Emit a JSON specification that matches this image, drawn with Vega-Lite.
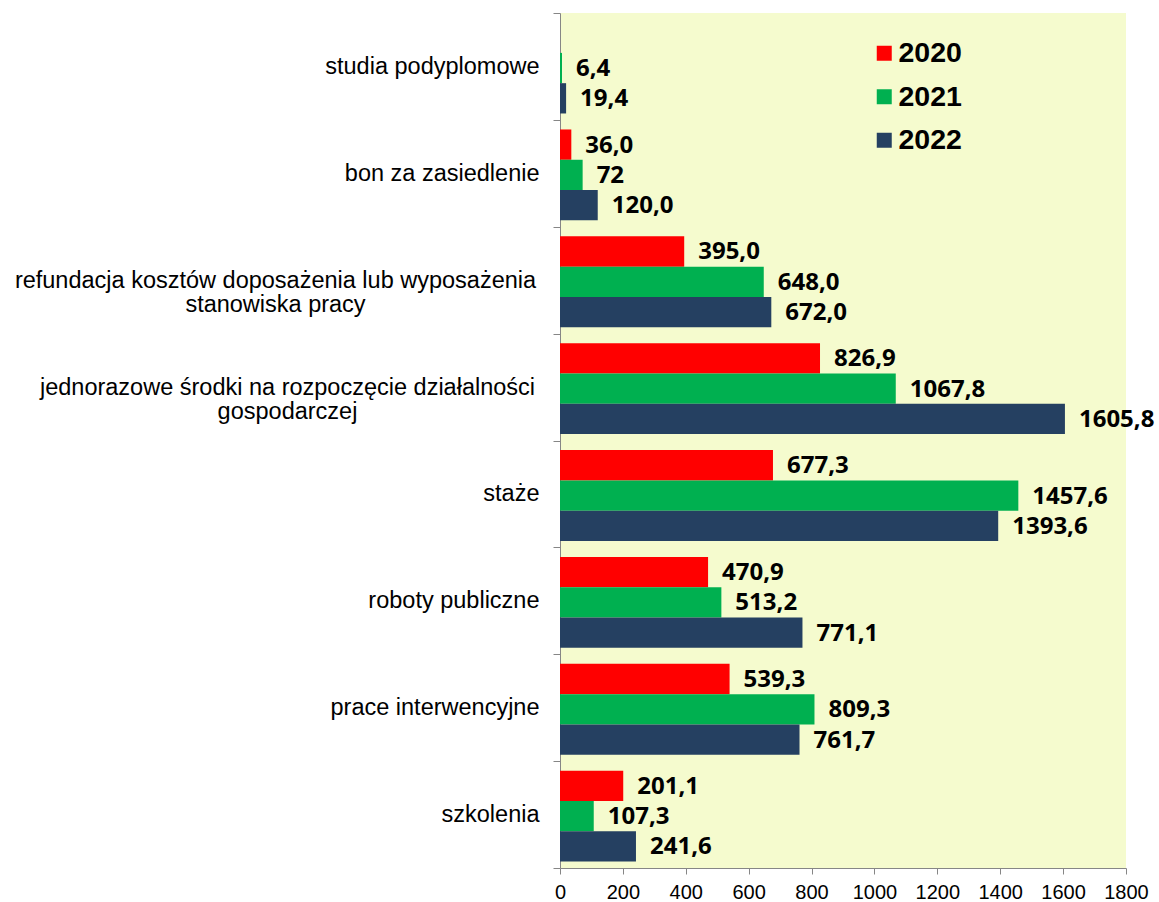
{
  "$schema": "https://vega.github.io/schema/vega-lite/v6.json",
  "width": 566,
  "height": 855,
  "autosize": {"type": "none"},
  "padding": {"left": 560, "top": 13, "right": 33, "bottom": 34},
  "background": "white",
  "config": {"view": {"fill": "#F5FBCE", "stroke": null}},
  "data": {
    "values": [
      {"cat": "studia podyplomowe", "year": "2021", "v": 6.4, "lab": "6,4"},
      {"cat": "studia podyplomowe", "year": "2022", "v": 19.4, "lab": "19,4"},
      {"cat": "bon za zasiedlenie", "year": "2020", "v": 36.0, "lab": "36,0"},
      {"cat": "bon za zasiedlenie", "year": "2021", "v": 72, "lab": "72"},
      {"cat": "bon za zasiedlenie", "year": "2022", "v": 120.0, "lab": "120,0"},
      {"cat": "refundacja kosztów doposażenia lub wyposażenia stanowiska pracy", "year": "2020", "v": 395.0, "lab": "395,0"},
      {"cat": "refundacja kosztów doposażenia lub wyposażenia stanowiska pracy", "year": "2021", "v": 648.0, "lab": "648,0"},
      {"cat": "refundacja kosztów doposażenia lub wyposażenia stanowiska pracy", "year": "2022", "v": 672.0, "lab": "672,0"},
      {"cat": "jednorazowe środki na rozpoczęcie działalności gospodarczej", "year": "2020", "v": 826.9, "lab": "826,9"},
      {"cat": "jednorazowe środki na rozpoczęcie działalności gospodarczej", "year": "2021", "v": 1067.8, "lab": "1067,8"},
      {"cat": "jednorazowe środki na rozpoczęcie działalności gospodarczej", "year": "2022", "v": 1605.8, "lab": "1605,8"},
      {"cat": "staże", "year": "2020", "v": 677.3, "lab": "677,3"},
      {"cat": "staże", "year": "2021", "v": 1457.6, "lab": "1457,6"},
      {"cat": "staże", "year": "2022", "v": 1393.6, "lab": "1393,6"},
      {"cat": "roboty publiczne", "year": "2020", "v": 470.9, "lab": "470,9"},
      {"cat": "roboty publiczne", "year": "2021", "v": 513.2, "lab": "513,2"},
      {"cat": "roboty publiczne", "year": "2022", "v": 771.1, "lab": "771,1"},
      {"cat": "prace interwencyjne", "year": "2020", "v": 539.3, "lab": "539,3"},
      {"cat": "prace interwencyjne", "year": "2021", "v": 809.3, "lab": "809,3"},
      {"cat": "prace interwencyjne", "year": "2022", "v": 761.7, "lab": "761,7"},
      {"cat": "szkolenia", "year": "2020", "v": 201.1, "lab": "201,1"},
      {"cat": "szkolenia", "year": "2021", "v": 107.3, "lab": "107,3"},
      {"cat": "szkolenia", "year": "2022", "v": 241.6, "lab": "241,6"}
    ]
  },
  "encoding": {
    "y": {
      "field": "cat",
      "type": "nominal",
      "sort": ["studia podyplomowe", "bon za zasiedlenie", "refundacja kosztów doposażenia lub wyposażenia stanowiska pracy", "jednorazowe środki na rozpoczęcie działalności gospodarczej", "staże", "roboty publiczne", "prace interwencyjne", "szkolenia"],
      "scale": {"paddingInner": 0, "paddingOuter": 0},
      "axis": {
        "title": null,
        "tickBand": "extent",
        "tickSize": 7,
        "tickColor": "#868686",
        "domainColor": "#868686",
        "labelFont": "Liberation Sans",
        "labelFontSize": 23.5,
        "labelColor": "#000000",
        "labelLimit": 700,
        "labelLineHeight": 24,
        "labelBaseline": "middle",
        "labelExpr": "datum.value == 'refundacja kosztów doposażenia lub wyposażenia stanowiska pracy' ? ['refundacja kosztów doposażenia lub wyposażenia', 'stanowiska pracy'] : datum.value == 'jednorazowe środki na rozpoczęcie działalności gospodarczej' ? ['jednorazowe środki na rozpoczęcie działalności', 'gospodarczej'] : datum.value",
        "labelAlign": {
          "condition": {"test": "datum.value == 'refundacja kosztów doposażenia lub wyposażenia stanowiska pracy' || datum.value == 'jednorazowe środki na rozpoczęcie działalności gospodarczej'", "value": "center"},
          "value": "right"
        },
        "labelPadding": {
          "condition": [
            {"test": "datum.value == 'refundacja kosztów doposażenia lub wyposażenia stanowiska pracy'", "value": 278},
            {"test": "datum.value == 'jednorazowe środki na rozpoczęcie działalności gospodarczej'", "value": 266}
          ],
          "value": 14
        }
      }
    },
    "yOffset": {
      "field": "year",
      "type": "nominal",
      "scale": {"domain": ["2020", "2021", "2022"], "paddingInner": 0, "paddingOuter": 0.264, "align": 0.6}
    },
    "x": {
      "field": "v",
      "type": "quantitative",
      "scale": {"domain": [0, 1800], "nice": false},
      "axis": {
        "title": null,
        "values": [0, 200, 400, 600, 800, 1000, 1200, 1400, 1600, 1800],
        "format": "d",
        "grid": false,
        "tickSize": 6,
        "tickColor": "#868686",
        "domainColor": "#868686",
        "labelFont": "Liberation Sans",
        "labelFontSize": 20,
        "labelColor": "#000000",
        "labelPadding": 8,
        "labelFlush": false
      }
    }
  },
  "layer": [
    {
      "mark": {"type": "bar"},
      "encoding": {
        "color": {
          "field": "year",
          "type": "nominal",
          "scale": {"domain": ["2020", "2021", "2022"], "range": ["#FF0000", "#00B050", "#254061"]},
          "legend": {
            "title": null,
            "orient": "none",
            "legendX": 310,
            "legendY": 26,
            "padding": 0,
            "symbolType": "square",
            "symbolSize": 225,
            "symbolStrokeWidth": 0,
            "labelFont": "Liberation Sans",
            "labelFontSize": 28.5,
            "labelFontWeight": "bold",
            "labelColor": "#000000",
            "labelOffset": 0,
            "rowPadding": 14.5
          }
        }
      }
    },
    {
      "mark": {"type": "text", "align": "left", "baseline": "middle", "dx": 14, "dy": 1, "font": "Open Sans", "fontSize": 24, "fontWeight": "bold", "color": "#000000"},
      "encoding": {"text": {"field": "lab"}}
    }
  ]
}
